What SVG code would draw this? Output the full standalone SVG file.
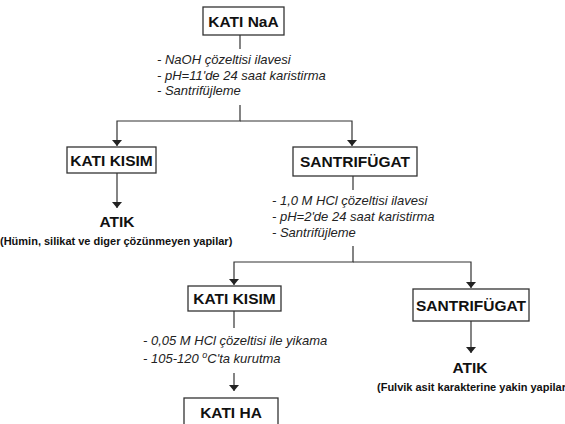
<svg xmlns="http://www.w3.org/2000/svg" width="565" height="424" viewBox="0 0 565 424">
<defs>
<marker id="ah" viewBox="0 0 6 10" refX="6" refY="5" markerWidth="6" markerHeight="10" markerUnits="userSpaceOnUse" orient="auto">
<path d="M0,0 L6,5 L0,10 Z" fill="#222"/>
</marker>
<style>
.box{fill:#fff;stroke:#333;stroke-width:1.3}
.lbl{font-family:"Liberation Sans",Arial,sans-serif;font-weight:bold;font-size:15.5px;fill:#111;text-anchor:middle}
.note{font-family:"Liberation Sans",Arial,sans-serif;font-style:italic;font-size:13px;fill:#222}
.sub{font-family:"Liberation Sans",Arial,sans-serif;font-weight:bold;font-size:11px;fill:#111}
.ln{fill:none;stroke:#333;stroke-width:1.2}
</style>
</defs>
<rect width="565" height="424" fill="#fff"/>
<g id="connectors">
<path class="ln" d="M240,35 V49"/>
<path class="ln" d="M240,105 V121 H117 V146" marker-end="url(#ah)"/>
<path class="ln" d="M240,121 H352 V146" marker-end="url(#ah)"/>
<path class="ln" d="M117,173 V208" marker-end="url(#ah)"/>
<path class="ln" d="M353,176 V190"/>
<path class="ln" d="M353,246 V262 H234 V285" marker-end="url(#ah)"/>
<path class="ln" d="M353,262 H471 V288" marker-end="url(#ah)"/>
<path class="ln" d="M471,321 V353" marker-end="url(#ah)"/>
<path class="ln" d="M234,311 V328"/>
<path class="ln" d="M234,373 V391" marker-end="url(#ah)"/>
</g>
<g id="kati-naa">
<rect class="box" x="203" y="7" width="81" height="28"/>
<text class="lbl" x="243.5" y="27">KATI NaA</text>
</g>
<g id="note1">
<text class="note" x="157" y="64">- NaOH çözeltisi ilavesi</text>
<text class="note" x="157" y="79.5">- pH=11'de 24 saat karistirma</text>
<text class="note" x="157" y="95">- Santrifüjleme</text>
</g>
<g id="kati-kisim-1">
<rect class="box" x="67" y="147" width="89" height="26"/>
<text class="lbl" x="111.5" y="166">KATI KISIM</text>
</g>
<g id="santrifugat-1">
<rect class="box" x="293" y="147" width="124" height="29"/>
<text class="lbl" x="355" y="167">SANTRIFÜGAT</text>
</g>
<g id="atik-1">
<text class="lbl" x="117" y="227">ATIK</text>
<text class="sub" x="0" y="245">(Hümin, silikat ve diger çözünmeyen yapilar)</text>
</g>
<g id="note2">
<text class="note" x="272" y="205">- 1,0 M HCl çözeltisi ilavesi</text>
<text class="note" x="272" y="221">- pH=2'de 24 saat karistirma</text>
<text class="note" x="272" y="237">- Santrifüjleme</text>
</g>
<g id="kati-kisim-2">
<rect class="box" x="188" y="286" width="93" height="25"/>
<text class="lbl" x="234.5" y="304">KATI KISIM</text>
</g>
<g id="santrifugat-2">
<rect class="box" x="413" y="289" width="116" height="32"/>
<text class="lbl" x="471" y="311">SANTRIFÜGAT</text>
</g>
<g id="atik-2">
<text class="lbl" x="470" y="373">ATIK</text>
<text class="sub" x="377" y="391">(Fulvik asit karakterine yakin yapilar</text>
</g>
<g id="note3">
<text class="note" x="143" y="345">- 0,05 M HCl çözeltisi ile yikama</text>
<text class="note" x="143" y="363">- 105-120 <tspan font-size="9" dy="-5">o</tspan><tspan dy="5">C'ta kurutma</tspan></text>
</g>
<g id="kati-ha">
<rect class="box" x="184" y="398" width="94" height="34"/>
<text class="lbl" x="231" y="418">KATI HA</text>
</g>
</svg>
